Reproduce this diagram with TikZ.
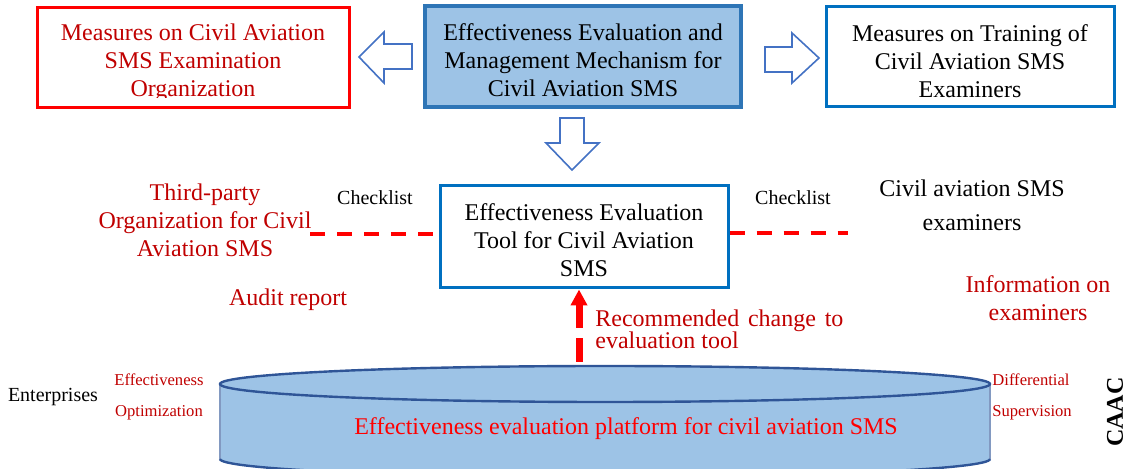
\documentclass[tikz,border=0pt]{standalone}
\usepackage{fontspec}
\setmainfont{Liberation Serif}
\usetikzlibrary{arrows.meta}
\definecolor{boxblue}{HTML}{0070C0}
\definecolor{mechblue}{HTML}{2E75B6}
\definecolor{lightfill}{HTML}{9DC3E6}
\definecolor{arrowblue}{HTML}{4472C4}
\definecolor{darkred}{HTML}{C00000}
\definecolor{cylblue}{HTML}{2F5597}
\newcommand{\bigtxt}{\fontsize{12}{14}\selectfont}
\newcommand{\smalltxt}{\fontsize{10}{12}\selectfont}
\newcommand{\tinytxt}{\fontsize{8.3}{15.5}\selectfont}

\begin{document}
\begin{tikzpicture}[x=0.5pt,y=-0.5pt,
  framebox/.style={minimum width=#1,minimum height=50pt,inner sep=0pt},
  hollow/.style={draw=arrowblue,line width=0.8pt,fill=white,line join=miter},
  reddash/.style={red,line width=2pt,dash pattern=on 7.5pt off 6pt},
  cylline/.style={draw=cylblue,line width=1.2pt},
  ytxt/.style={font=\bigtxt,align=center}]
\useasboundingbox (0,0) rectangle (1129,469);
%%%%%%%%%%%%%%%%%%%% top row %%%%%%%%%%%%%%%%%%%%
\node[framebox=156pt,draw=red,line width=1.5pt] (mso) at (193,58) {};
\begin{scope}
  \clip (37,8) rectangle (349,98);
  \node[ytxt,darkred] (msotxt) at (193,63) {Measures on Civil Aviation\\SMS Examination\\Organization};
\end{scope}
\node[framebox=158pt,minimum height=50.5pt,fill=lightfill,draw=mechblue,line width=2pt] (mech) at (583,57) {};
\node[ytxt] (mechtxt) at (583,60) {Effectiveness Evaluation and\\Management Mechanism for\\Civil Aviation SMS};
\node[framebox=144pt,draw=boxblue,line width=1.5pt] (trn) at (970,57) {};
\node[ytxt] (trntxt) at (970,61) {Measures on Training of\\Civil Aviation SMS\\Examiners};
% hollow block arrows
\draw[hollow] (359,57) -- (384,32) -- (384,44) -- (412,44) -- (412,69) -- (384,69) -- (384,83) -- cycle;
\draw[hollow] (819,58) -- (792,33) -- (792,47) -- (765,47) -- (765,72) -- (792,72) -- (792,83) -- cycle;
\draw[hollow] (572,170) -- (546,143) -- (560,143) -- (560,118) -- (584,118) -- (584,143) -- (599,143) -- cycle;
%%%%%%%%%%%%%%%%%%%% middle row %%%%%%%%%%%%%%%%%%%%
\node[framebox=144pt,minimum height=51pt,draw=boxblue,line width=1.5pt] (tool) at (584,237) {};
\node[ytxt] (tooltxt) at (584,240) {Effectiveness Evaluation\\Tool for Civil Aviation\\SMS};
\node[ytxt,darkred] (tp) at (205,220) {Third-party\\Organization for Civil\\Aviation SMS};
\node[font=\smalltxt] (chkl) at (375,198) {Checklist};
\node[font=\smalltxt] (chkr) at (793,198) {Checklist};
\node[font=\fontsize{12}{17}\selectfont,align=center] (exr) at (972,205) {Civil aviation SMS\\examiners};
\coordinate (tpend) at (310,234);
\coordinate (exend) at (848,233);
\draw[reddash] (tpend) -- (tpend -| tool.west);
\draw[reddash] (exend -| tool.east) -- (exend);
\node[ytxt,darkred] (audit) at (288,300) {Audit report};
\node[ytxt,darkred] (info) at (1038,298) {Information on\\examiners};
\node[darkred,font=\fontsize{12}{11}\selectfont,text width=124pt,align=justify,anchor=west,inner sep=0pt] (recom) at (595,329)
  {Recommended change to evaluation tool};
%%%%%%%%%%%%%%%%%%%% the platform %%%%%%%%%%%%%%%%%%%%
\begin{scope}
  \clip (0,0) rectangle (1129,469);
  \fill[lightfill] (220,384) -- (220,459) arc[start angle=180,end angle=360,x radius=192.5pt,y radius=9pt]
    -- (990,384) arc[start angle=0,end angle=180,x radius=192.5pt,y radius=9pt] -- cycle;
  \draw[cylblue!60,line width=0.6pt] (220,384) -- (220,459) (990,384) -- (990,459);
  \draw[cylline] (220,459) arc[start angle=180,end angle=360,x radius=192.5pt,y radius=9pt];
  \draw[cylline] (605,384) ellipse[x radius=192.5pt,y radius=9pt];
\end{scope}
\node[red,font=\bigtxt] (plat) at (626,429) {Effectiveness evaluation platform for civil aviation SMS};
\coordinate (cyltop) at (579,362);
\draw[red,line width=3.5pt,dash pattern=on 12pt off 5pt,-{Triangle[width=8pt,length=8pt]}] (cyltop) -- (cyltop |- tool.south);
\node[font=\smalltxt] (ent) at (53,397) {Enterprises};
\node[darkred,font=\tinytxt,align=center] (eopt) at (159,397) {Effectiveness\\Optimization};
\node[darkred,font=\tinytxt,align=left,anchor=west,inner sep=1pt] (dsup) at (990,397) {Differential\\Supervision};
\node[rotate=90,font=\bigtxt\bfseries,inner sep=1pt] (caac) at (1115,412) {CAAC};
\end{tikzpicture}
\end{document}
